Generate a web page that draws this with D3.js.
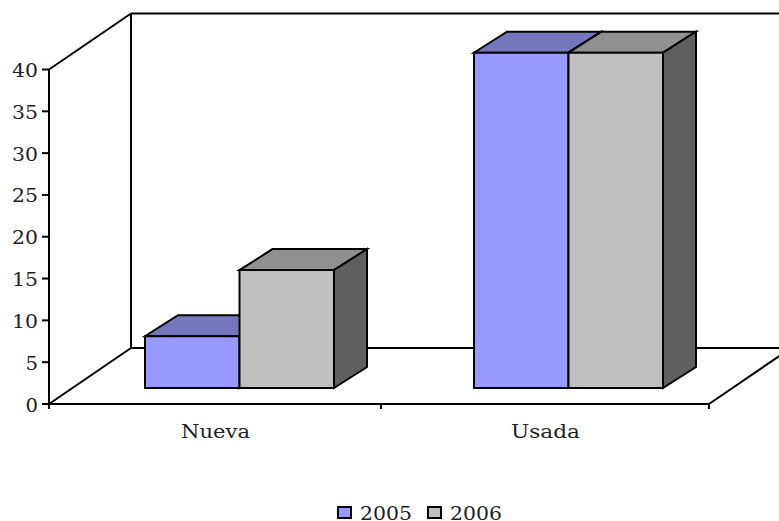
<!DOCTYPE html>
<html><head><meta charset="utf-8">
<script src="https://cdn.jsdelivr.net/npm/d3@7/dist/d3.min.js"></script>
<style>html,body{margin:0;padding:0;background:#fff;overflow:hidden}svg{display:block}text{font-family:"DejaVu Serif",serif;fill:#222}</style>
</head><body><div id="c"></div>
<script>
const categories = ["Nueva", "Usada"];
const seriesNames = ["2005", "2006"];
const values2005 = [6.2, 40.1];
const values2006 = [14.1, 40.1];
const yTicks = [0, 5, 10, 15, 20, 25, 30, 35, 40];
const frontColors = ["#9999ff", "#c0c0c0"];
const topColors = ["#7676bd", "#909090"];
const sideColors = ["#5f5f8f", "#606060"];

const W = 779, H = 521;
const x0 = 49, x1 = 709, y0 = 404, yTop = 69.5;
const wallDx = 82, wallDy = -56;
const barDx = 33, barDy = -21;
const barBase = 388;
const svg = d3.select("#c").append("svg").attr("width", W).attr("height", H);
const y = d3.scaleLinear().domain([0, 40]).range([y0, yTop]);
const xCat = d3.scaleBand().domain(categories).range([x0, x1]);
const xBar = d3.scaleBand().domain(categories).range([145, 663]).paddingInner(140 / 329);
const xSer = d3.scaleBand().domain(seriesNames).range([0, xBar.bandwidth()]);
const line = (a, b, c, d, w = 2) => svg.append("line").attr("x1", a).attr("y1", b).attr("x2", c).attr("y2", d)
  .attr("stroke", "#000").attr("stroke-width", w);

// walls and floor
const bx = x0 + wallDx;
line(bx, y(40) + wallDy, W + 20, y(40) + wallDy);
line(bx, y(40) + wallDy, bx, y0 + wallDy);
line(bx, y0 + wallDy, x1 + wallDx, y0 + wallDy);
line(x0, y(40), bx, y(40) + wallDy);
line(x0, y0, bx, y0 + wallDy);
line(x1, y0, x1 + wallDx, y0 + wallDy);
line(x0, y0, x0, y(40));
line(x0, y0, x1, y0);

// y axis
yTicks.forEach(t => {
  line(x0 - 7, y(t), x0, y(t));
  svg.append("text").attr("x", 38).attr("y", y(t) + 7.5).attr("text-anchor", "end")
    .attr("font-size", 18).attr("textLength", t < 10 ? 12.5 : 26).attr("lengthAdjust", "spacingAndGlyphs").text(t);
});
// x ticks
[x0, xCat(categories[1]) + 2, x1].forEach(px => line(px, y0, px, y0 + 5));
categories.forEach(c => {
  svg.append("text").attr("x", xCat(c) + xCat.step() / 2 + 1.5).attr("y", 438).attr("text-anchor", "middle")
    .attr("font-size", 19).attr("textLength", 69).attr("lengthAdjust", "spacingAndGlyphs").text(c);
});

// bars
const series = [values2005, values2006];
const unit = y(0) - y(1);
categories.forEach((c, ci) => {
  const gx = xBar(c);
  seriesNames.forEach((s, si) => {
    const xl = gx + xSer(s), xr = xl + xSer.bandwidth();
    const t = barBase - series[si][ci] * unit, b = barBase;
    const face = (pts, fill) => svg.append("polygon").attr("points", pts.map(p => p.join(",")).join(" "))
      .attr("fill", fill).attr("stroke", "#000").attr("stroke-width", 2).attr("stroke-linejoin", "miter");
    face([[xl, t], [xr, t], [xr + barDx, t + barDy], [xl + barDx, t + barDy]], topColors[si]);
    face([[xr, t], [xr + barDx, t + barDy], [xr + barDx, b + barDy], [xr, b]], sideColors[si]);
    face([[xl, t], [xr, t], [xr, b], [xl, b]], frontColors[si]);
  });
});

// legend
const legendX = [338, 428];
const legendTextX = [360, 450];
seriesNames.forEach((s, i) => {
  svg.append("rect").attr("x", legendX[i]).attr("y", 507).attr("width", 13).attr("height", 11)
    .attr("fill", frontColors[i]).attr("stroke", "#000").attr("stroke-width", 2);
  svg.append("text").attr("x", legendTextX[i]).attr("y", 519.5).attr("font-size", 18.5)
    .attr("textLength", 52).attr("lengthAdjust", "spacingAndGlyphs").text(s);
});
</script></body></html>
